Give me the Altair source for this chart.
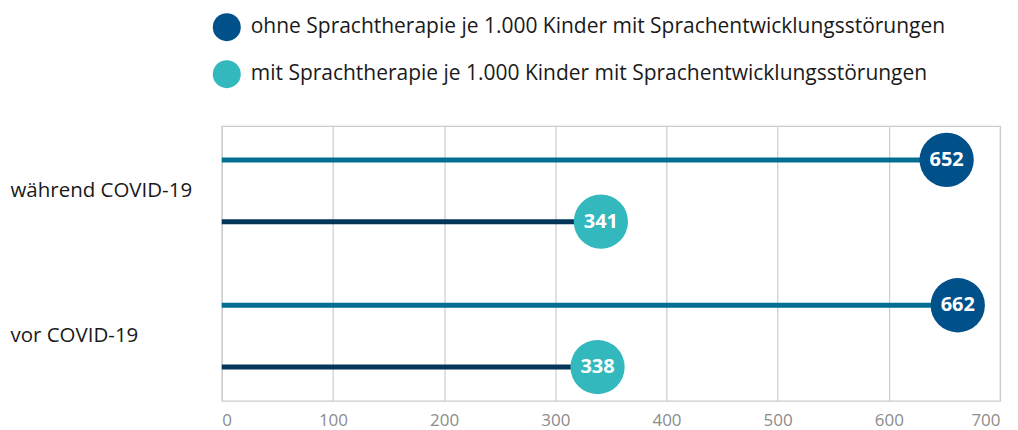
import altair as alt
import pandas as pd

categories = ["während COVID-19", "während COVID-19", "vor COVID-19", "vor COVID-19"]
series = ["ohne Sprachtherapie je 1.000 Kinder mit Sprachentwicklungsstörungen",
          "mit Sprachtherapie je 1.000 Kinder mit Sprachentwicklungsstörungen",
          "ohne Sprachtherapie je 1.000 Kinder mit Sprachentwicklungsstörungen",
          "mit Sprachtherapie je 1.000 Kinder mit Sprachentwicklungsstörungen"]
values = [652, 341, 662, 338]

series_order = ["ohne Sprachtherapie je 1.000 Kinder mit Sprachentwicklungsstörungen",
                "mit Sprachtherapie je 1.000 Kinder mit Sprachentwicklungsstörungen"]
cat_order = ["während COVID-19", "vor COVID-19"]
dot_colors = ["#00508a", "#33b8bd"]
line_colors = ["#006f94", "#053559"]

df = pd.DataFrame({"Kategorie": categories, "Serie": series, "Wert": values})

FONT = "Open Sans"

y_enc = alt.Y("Kategorie:N", sort=cat_order,
              scale=alt.Scale(paddingInner=0.15, paddingOuter=0.02),
              axis=alt.Axis(title=None, ticks=False, domain=False, labelAlign="left",
                            labelPadding=212, labelFontSize=20.5, labelColor="#1a1a1a",
                            labelFont=FONT, labelOffset=0, labelLimit=300))
yoff = alt.YOffset("Serie:N", sort=series_order,
                   scale=alt.Scale(paddingInner=0, paddingOuter=0))
x_scale = alt.Scale(domain=[0, 700])

base = alt.Chart(df)

bars = base.mark_bar(height=5).encode(
    x=alt.X("Wert:Q", scale=x_scale,
            axis=alt.Axis(title=None, values=[0, 100, 200, 300, 400, 500, 600, 700],
                          ticks=False, domain=False, labelFontSize=17, labelColor="#8c8c8c",
                          labelFont=FONT, labelPadding=12, gridColor="#cccccc",
                          gridWidth=1.2)),
    x2=alt.datum(0),
    y=y_enc,
    yOffset=yoff,
    color=alt.Color("Serie:N", scale=alt.Scale(domain=series_order, range=line_colors),
                    legend=None),
)

dots = base.mark_circle(size=2950, opacity=1).encode(
    x=alt.X("Wert:Q", scale=x_scale),
    y=y_enc,
    yOffset=yoff,
    color=alt.Color("Serie:N", scale=alt.Scale(domain=series_order, range=dot_colors),
                    legend=alt.Legend(title=None, orient="none", legendX=-9, legendY=-113,
                                      symbolSize=784, symbolType="circle",
                                      labelFontSize=21, labelFont=FONT, labelColor="#1a1a1a",
                                      labelLimit=900, rowPadding=19, labelOffset=10,
                                      symbolStrokeWidth=0)),
)

labels = base.mark_text(color="white", fontWeight="bold", fontSize=20, font=FONT).encode(
    x=alt.X("Wert:Q", scale=x_scale),
    y=y_enc,
    yOffset=yoff,
    text=alt.Text("Wert:Q"),
)

chart = alt.layer(bars, dots, labels).resolve_scale(color="independent").properties(
    width=779, height=275,
    autosize=alt.AutoSizeParams(type="none"),
    padding={"left": 214, "top": 118, "right": 10, "bottom": 30},
).configure_view(stroke="#cccccc", strokeWidth=1.2)

chart.save("out.html", embed_options={"renderer": "svg", "actions": False})
